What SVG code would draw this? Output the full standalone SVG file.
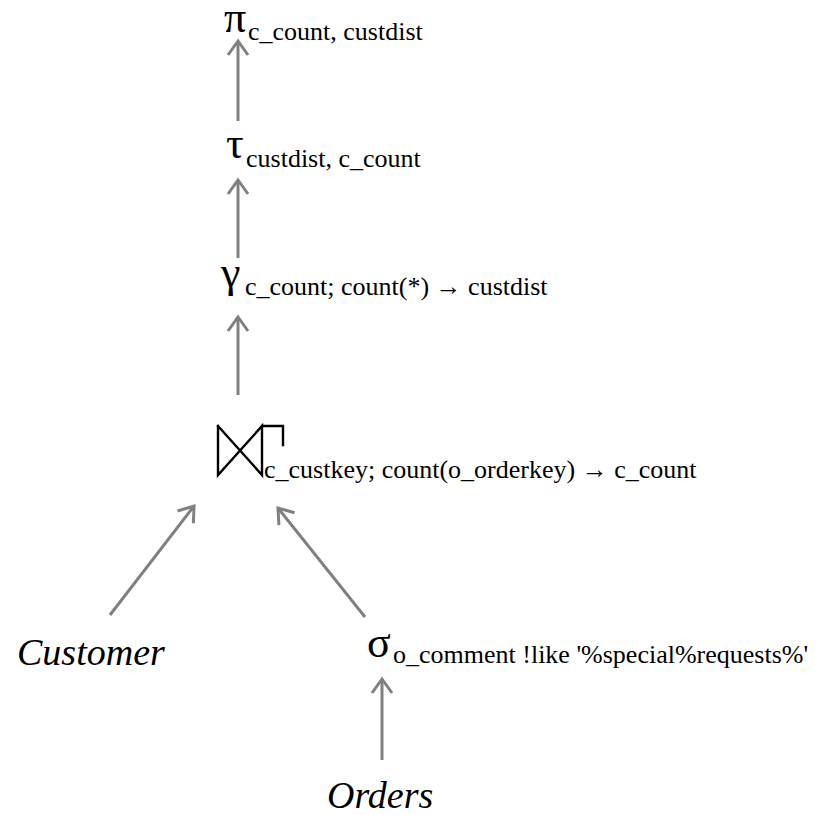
<svg xmlns="http://www.w3.org/2000/svg" width="823" height="815" viewBox="0 0 823 815">
  <style>
    text { fill: #000; }
    .op { font-size: 44px; }
    .sub { font-size: 26px; }
    .rel { font-size: 38px; font-style: italic; }
    .edge { stroke: #808080; stroke-width: 3; fill: none; marker-end: url(#arrow); }
    .sym { stroke: #000; stroke-width: 2.4; fill: none; stroke-linecap: square; }
  </style>
  <defs>
    <marker id="arrow" markerUnits="userSpaceOnUse" markerWidth="30" markerHeight="30" refX="0" refY="0" viewBox="-20 -15 30 30" orient="auto" overflow="visible">
      <path d="M-14,-10 L0,0 L-14,10" stroke="#808080" stroke-width="3" fill="none"/>
    </marker>
  </defs>

  <rect width="823" height="815" fill="#fff"/>

  <!-- data-flow edges, pointing from input to consuming operator -->
  <g id="edges">
    <line class="edge" x1="238" y1="121" x2="238" y2="41"/>
    <line class="edge" x1="238" y1="258" x2="238" y2="180"/>
    <line class="edge" x1="238" y1="395" x2="238" y2="317"/>
    <line class="edge" x1="110" y1="615" x2="194" y2="506"/>
    <line class="edge" x1="365" y1="617" x2="278" y2="508"/>
    <line class="edge" x1="382" y1="760" x2="382" y2="679"/>
  </g>

  <g font-family="Liberation Serif, serif">
    <!-- projection -->
    <g id="projection">
      <text class="op" x="224" y="32">π</text>
      <text class="sub" x="248" y="40">c_count, custdist</text>
    </g>

    <!-- sort -->
    <g id="sort">
      <text class="op" x="226" y="158">τ</text>
      <text class="sub" x="246" y="167">custdist, c_count</text>
    </g>

    <!-- grouping -->
    <g id="grouping">
      <text class="op" x="221" y="287">γ</text>
      <text class="sub" x="245" y="295">c_count; count(*) → custdist</text>
    </g>

    <!-- right outer join with aggregation -->
    <g id="join">
      <path class="sym" d="M218,426 L218,475 L262,426 L262,475 L218,426 M262,426 L283,426 L283,445"/>
      <text class="sub" x="264" y="478">c_custkey; count(o_orderkey) → c_count</text>
    </g>

    <!-- base relation Customer -->
    <g id="customer">
      <text class="rel" x="17" y="665">Customer</text>
    </g>

    <!-- selection on Orders -->
    <g id="selection">
      <text class="op" x="367" y="657">σ</text>
      <text class="sub" x="393" y="663">o_comment !like '%special%requests%'</text>
    </g>

    <!-- base relation Orders -->
    <g id="orders">
      <text class="rel" x="327" y="808">Orders</text>
    </g>
  </g>
</svg>
